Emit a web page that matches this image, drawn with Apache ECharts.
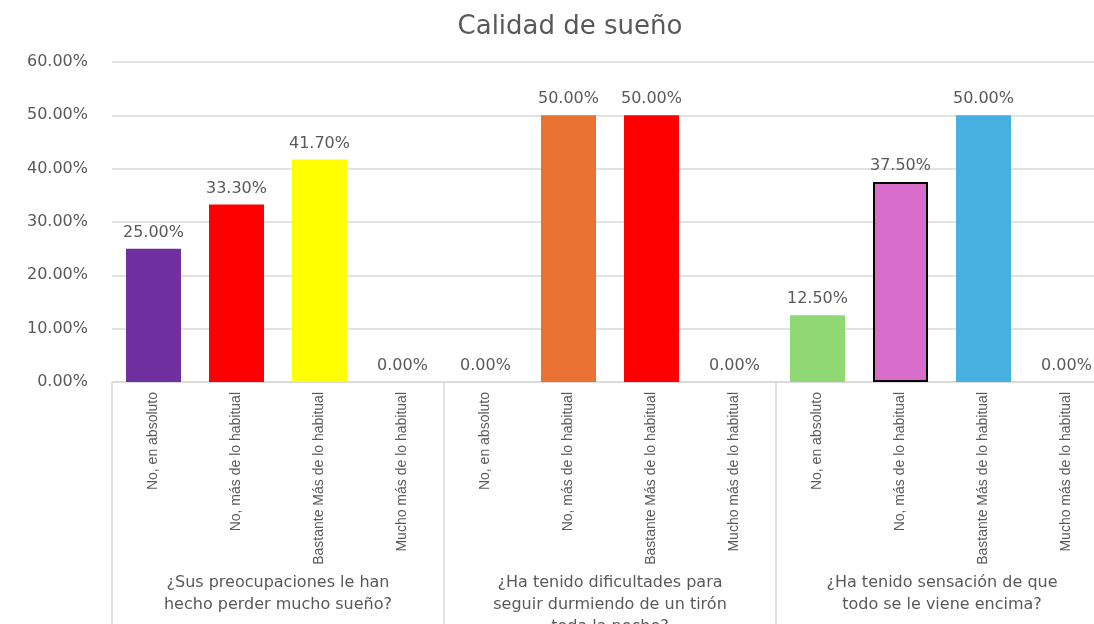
<!DOCTYPE html>
<html>
<head>
<meta charset="utf-8">
<script src="https://cdn.jsdelivr.net/npm/echarts@6/dist/echarts.min.js"></script>
<style>
html,body{margin:0;padding:0;background:#fff;}
#chart{width:1094px;height:624px;}
</style>
</head>
<body>
<div id="chart"></div>
<script>
const title = 'Calidad de sueño';
const answers = ['No, en absoluto', 'No, más de lo habitual', 'Bastante Más de lo habitual', 'Mucho más de lo habitual'];
const groups = [
  '¿Sus preocupaciones le han\nhecho perder mucho sueño?',
  '¿Ha tenido dificultades para\nseguir durmiendo de un tirón\ntoda la noche?',
  '¿Ha tenido sensación de que\ntodo se le viene encima?'
];
const values = [25.0, 33.3, 41.7, 0.0, 0.0, 50.0, 50.0, 0.0, 12.5, 37.5, 50.0, 0.0];
const yTicks = [0, 10, 20, 30, 40, 50, 60];

const barColors = ['#7030A0', '#FF0000', '#FFFF00', '#FFFFFF', '#FFFFFF', '#E97132', '#FF0000', '#FFFFFF', '#8FD873', '#D86DCB', '#47B0E0', '#FFFFFF'];
const barBorders = [null, null, null, null, null, null, null, null, null, '#000000', null, null];

const categories = [];
groups.forEach(() => answers.forEach(a => categories.push(a)));

const txt = '#595959';
const gridC = '#d9d9d9';

const chart = echarts.init(document.getElementById('chart'), null, {renderer: 'canvas'});
chart.setOption({
  animation: false,
  backgroundColor: '#ffffff',
  title: {
    text: title,
    left: 565,
    textAlign: 'center',
    top: 9,
    textStyle: {color: txt, fontSize: 26, fontWeight: 'normal', fontFamily: 'DejaVu Sans'}
  },
  grid: {left: 112, right: -14, top: 62, bottom: 242, containLabel: false, outerBoundsMode: 'none'},
  xAxis: [
    {
      type: 'category',
      data: categories,
      position: 'bottom',
      axisLine: {show: true, lineStyle: {color: gridC, width: 1.5}},
      axisTick: {show: false},
      axisLabel: {
        interval: 0,
        rotate: 90,
        margin: 10,
        color: txt,
        fontSize: 14,
        fontFamily: '"Liberation Sans", Arial, sans-serif'
      },
      splitLine: {show: false}
    },
    {
      type: 'category',
      data: groups,
      position: 'bottom',
      gridIndex: 0,
      axisLine: {show: false},
      axisTick: {show: true, length: 250, lineStyle: {color: gridC, width: 1.5}},
      axisLabel: {
        interval: 0,
        margin: 190,
        color: txt,
        fontSize: 16,
        lineHeight: 22,
        align: 'center',
        verticalAlign: 'top',
        fontFamily: 'DejaVu Sans'
      },
      splitLine: {show: false}
    }
  ],
  yAxis: {
    type: 'value',
    min: yTicks[0],
    max: yTicks[yTicks.length - 1],
    interval: 10,
    axisLine: {show: false},
    axisTick: {show: false},
    splitLine: {show: true, lineStyle: {color: gridC, width: 1.5}},
    axisLabel: {
      margin: 24,
      color: txt,
      fontSize: 16,
      fontFamily: 'DejaVu Sans',
      formatter: v => v.toFixed(2) + '%'
    }
  },
  series: [{
    type: 'bar',
    xAxisIndex: 0,
    barWidth: 55,
    data: values.map((v, i) => ({
      value: v,
      itemStyle: {
        color: barColors[i],
        borderColor: barBorders[i] || barColors[i],
        borderWidth: barBorders[i] ? 2 : 0
      }
    })),
    label: {
      show: true,
      position: 'top',
      distance: 8,
      color: txt,
      fontSize: 16,
      fontFamily: 'DejaVu Sans',
      formatter: p => p.value.toFixed(2) + '%'
    }
  }]
});
</script>
</body>
</html>
